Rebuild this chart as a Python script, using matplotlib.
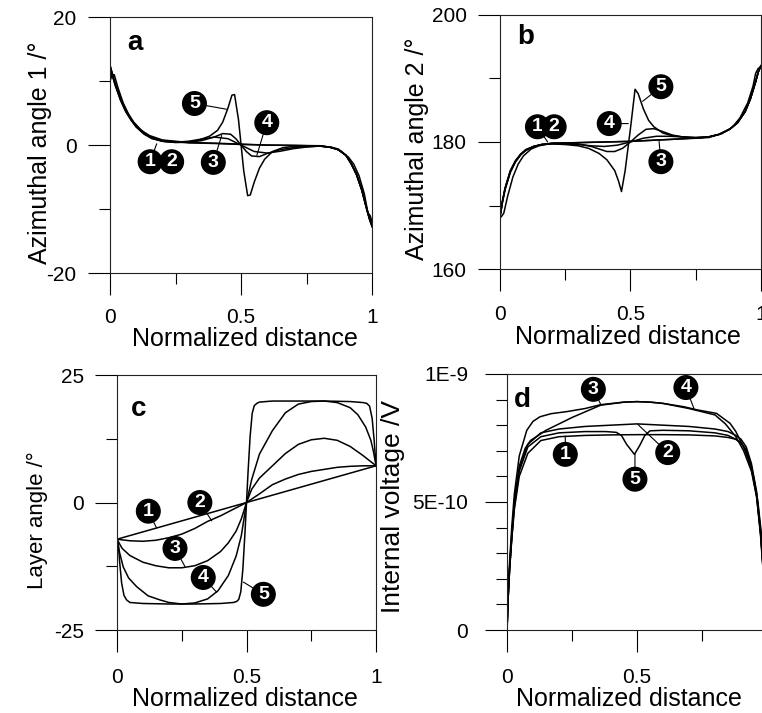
import numpy as np
import matplotlib
matplotlib.use("Agg")
import matplotlib.pyplot as plt
from matplotlib.ticker import MultipleLocator

plt.rcParams['font.family'] = ['Liberation Sans', 'DejaVu Sans']
plt.rcParams['axes.unicode_minus'] = False

# ---- panel a : azimuthal angle 1 (deg) ----
xa1 = [0, 0.01, 0.02, 0.04, 0.06, 0.08, 0.1, 0.13, 0.16, 0.2, 0.3, 0.4, 0.5, 0.6, 0.7, 0.8, 0.84, 0.87, 0.9, 0.92, 0.94, 0.96, 0.98, 0.99, 1.0]
ya1 = [12.5, 11.0, 9.6, 7.3, 5.5, 4.1, 3.0, 1.9, 1.2, 0.7, 0.35, 0.25, 0.1, 0.0, -0.05, -0.15, -0.3, -0.6, -1.6, -2.9, -4.6, -7.0, -10.2, -11.6, -12.8]
xa2 = [0, 0.008, 0.016, 0.03, 0.05, 0.07, 0.09, 0.12, 0.15, 0.2, 0.3, 0.4, 0.5, 0.6, 0.7, 0.8, 0.85, 0.88, 0.91, 0.93, 0.95, 0.97, 0.984, 0.992, 1.0]
ya2 = [10.0, 11.0, 11.0, 9.0, 6.6, 4.9, 3.6, 2.3, 1.5, 0.8, 0.4, 0.3, 0.15, 0.0, -0.05, -0.1, -0.4, -0.9, -1.9, -3.0, -4.8, -7.6, -10.6, -11.0, -12.0]
xa3 = [0, 0.01, 0.02, 0.04, 0.06, 0.08, 0.1, 0.13, 0.16, 0.2, 0.25, 0.3, 0.35, 0.4, 0.45, 0.5, 0.55, 0.6, 0.65, 0.7, 0.75, 0.8, 0.84, 0.87, 0.9, 0.92, 0.94, 0.96, 0.98, 0.99, 1.0]
ya3 = [12.3, 10.8, 9.4, 7.1, 5.3, 4.0, 2.9, 1.8, 1.1, 0.6, 0.45, 0.6, 0.95, 1.25, 1.0, 0.0, -1.0, -1.25, -0.95, -0.55, -0.3, -0.15, -0.35, -0.7, -1.6, -2.9, -4.5, -6.9, -10.0, -11.5, -12.6]
xa4 = [0, 0.01, 0.02, 0.04, 0.06, 0.08, 0.1, 0.13, 0.16, 0.2, 0.25, 0.3, 0.35, 0.4, 0.43, 0.46, 0.48, 0.5, 0.52, 0.54, 0.57, 0.6, 0.65, 0.7, 0.75, 0.8, 0.84, 0.87, 0.9, 0.92, 0.94, 0.96, 0.98, 0.99, 1.0]
ya4 = [12.4, 10.9, 9.5, 7.2, 5.4, 4.0, 2.9, 1.8, 1.1, 0.6, 0.4, 0.45, 0.7, 1.3, 1.8, 1.7, 1.0, 0.0, -1.0, -1.7, -1.8, -1.3, -0.7, -0.4, -0.25, -0.15, -0.35, -0.7, -1.6, -2.9, -4.6, -7.0, -10.1, -11.6, -12.7]
xa5 = [0, 0.01, 0.02, 0.04, 0.06, 0.08, 0.1, 0.13, 0.16, 0.2, 0.25, 0.3, 0.34, 0.38, 0.41, 0.43, 0.45, 0.465, 0.475, 0.49, 0.5, 0.51, 0.525, 0.535, 0.55, 0.57, 0.59, 0.62, 0.66, 0.7, 0.75, 0.8, 0.84, 0.87, 0.9, 0.92, 0.94, 0.96, 0.98, 0.99, 1.0]
ya5 = [12.2, 10.7, 9.3, 7.0, 5.2, 3.9, 2.8, 1.7, 1.0, 0.6, 0.45, 0.5, 0.8, 1.4, 2.3, 3.6, 5.8, 7.8, 7.9, 4.0, 0.0, -4.0, -7.9, -7.8, -5.8, -3.6, -2.2, -1.0, -0.4, -0.2, -0.15, -0.1, -0.35, -0.7, -1.6, -2.9, -4.5, -6.9, -10.0, -11.5, -12.6]

# ---- panel b : azimuthal angle 2 (deg) ----
xb1 = [0, 0.01, 0.02, 0.04, 0.06, 0.08, 0.1, 0.13, 0.16, 0.2, 0.3, 0.4, 0.5, 0.6, 0.7, 0.76, 0.8, 0.84, 0.88, 0.91, 0.94, 0.96, 0.98, 0.99, 1.0]
yb1 = [168.0, 170.5, 172.5, 175.2, 176.9, 178.0, 178.7, 179.3, 179.6, 179.8, 179.9, 180.0, 180.1, 180.3, 180.5, 180.6, 180.8, 181.2, 182.0, 183.0, 184.8, 186.8, 189.5, 191.0, 192.0]
xb2 = [0, 0.005, 0.015, 0.03, 0.05, 0.07, 0.09, 0.12, 0.15, 0.2, 0.3, 0.4, 0.5, 0.6, 0.7, 0.8, 0.85, 0.89, 0.92, 0.95, 0.97, 0.98, 0.99, 1.0]
yb2 = [168.5, 168.2, 168.8, 171.5, 174.5, 176.5, 177.8, 178.9, 179.4, 179.8, 179.9, 180.0, 180.1, 180.3, 180.5, 180.8, 181.3, 182.3, 183.8, 186.2, 188.8, 190.8, 191.6, 191.8]
xb3 = [0, 0.01, 0.02, 0.04, 0.06, 0.08, 0.1, 0.13, 0.16, 0.2, 0.25, 0.3, 0.35, 0.4, 0.45, 0.5, 0.55, 0.6, 0.65, 0.7, 0.75, 0.8, 0.84, 0.88, 0.91, 0.94, 0.96, 0.98, 0.99, 1.0]
yb3 = [168.2, 170.7, 172.7, 175.4, 177.0, 178.1, 178.8, 179.3, 179.6, 179.7, 179.7, 179.6, 179.4, 179.3, 179.5, 180.0, 180.6, 180.9, 180.9, 180.8, 180.7, 180.8, 181.2, 182.0, 183.0, 184.8, 186.8, 189.5, 191.0, 192.0]
xb4 = [0, 0.01, 0.02, 0.04, 0.06, 0.08, 0.1, 0.13, 0.16, 0.2, 0.25, 0.3, 0.35, 0.38, 0.41, 0.44, 0.47, 0.5, 0.53, 0.56, 0.59, 0.62, 0.66, 0.7, 0.75, 0.8, 0.84, 0.88, 0.91, 0.94, 0.96, 0.98, 0.99, 1.0]
yb4 = [168.1, 170.6, 172.6, 175.3, 176.9, 178.0, 178.7, 179.3, 179.6, 179.8, 179.8, 179.7, 179.3, 178.9, 178.5, 178.5, 179.0, 180.0, 181.1, 182.0, 182.1, 181.7, 181.1, 180.8, 180.6, 180.7, 181.2, 182.0, 183.0, 184.8, 186.8, 189.5, 191.0, 192.0]
xb5 = [0, 0.01, 0.02, 0.04, 0.06, 0.08, 0.1, 0.13, 0.16, 0.2, 0.25, 0.3, 0.34, 0.38, 0.41, 0.44, 0.455, 0.466, 0.48, 0.5, 0.518, 0.53, 0.55, 0.57, 0.59, 0.625, 0.66, 0.7, 0.75, 0.8, 0.84, 0.88, 0.91, 0.94, 0.96, 0.98, 0.99, 1.0]
yb5 = [168.3, 170.8, 172.8, 175.5, 177.1, 178.1, 178.8, 179.3, 179.6, 179.7, 179.6, 179.4, 179.0, 178.2, 177.2, 175.5, 173.8, 172.2, 175.5, 182.0, 188.3, 187.6, 185.2, 183.4, 182.4, 181.4, 181.0, 180.8, 180.7, 180.8, 181.2, 182.0, 183.0, 184.8, 186.8, 189.5, 191.0, 192.0]

# ---- panel c : layer angle (deg) ----
xc1 = [0, 0.25, 0.5, 0.75, 1.0]
yc1 = [-7.2, -3.6, 0.0, 3.6, 7.2]
xc2 = [0, 0.05, 0.1, 0.15, 0.2, 0.25, 0.3, 0.35, 0.4, 0.45, 0.5, 0.55, 0.6, 0.65, 0.7, 0.75, 0.8, 0.85, 0.9, 0.95, 1.0]
yc2 = [-7.2, -7.5, -7.6, -7.4, -6.9, -6.2, -5.1, -3.7, -2.6, -1.3, 0.0, 1.7, 3.5, 4.6, 5.5, 6.1, 6.5, 6.9, 7.1, 7.2, 7.2]
xc3 = [0, 0.02, 0.05, 0.1, 0.15, 0.2, 0.25, 0.3, 0.35, 0.4, 0.43, 0.46, 0.48, 0.5, 0.52, 0.55, 0.6, 0.65, 0.7, 0.75, 0.8, 0.85, 0.9, 0.95, 0.98, 1.0]
yc3 = [-7.2, -9.0, -10.4, -11.7, -12.4, -12.8, -12.8, -12.4, -11.4, -9.6, -7.9, -5.6, -3.2, 0.0, 2.6, 4.8, 7.2, 9.6, 11.4, 12.3, 12.6, 12.2, 11.0, 9.2, 8.0, 7.2]
xc4 = [0, 0.01, 0.024, 0.045, 0.076, 0.12, 0.166, 0.2, 0.25, 0.3, 0.35, 0.39, 0.43, 0.46, 0.48, 0.5, 0.52, 0.55, 0.6, 0.65, 0.7, 0.75, 0.8, 0.85, 0.9, 0.93, 0.96, 0.98, 0.99, 1.0]
yc4 = [-7.2, -9.8, -12.6, -14.8, -16.5, -18.3, -19.1, -19.6, -19.9, -19.7, -18.9, -17.3, -14.3, -10.5, -6.5, 0.0, 4.5, 9.5, 14.1, 17.6, 19.3, 19.8, 19.9, 19.6, 18.6, 17.2, 14.8, 12.2, 10.0, 7.2]
xc5 = [0, 0.005, 0.01, 0.018, 0.027, 0.037, 0.05, 0.1, 0.2, 0.3, 0.4, 0.45, 0.462, 0.47, 0.478, 0.486, 0.494, 0.5, 0.506, 0.514, 0.522, 0.53, 0.54, 0.55, 0.6, 0.7, 0.8, 0.9, 0.95, 0.964, 0.975, 0.985, 0.993, 1.0]
yc5 = [-7.2, -8.0, -11.5, -15.8, -18.2, -19.1, -19.6, -19.8, -19.9, -19.9, -19.8, -19.6, -19.4, -19.0, -17.5, -13.0, -6.0, 0.0, 6.0, 13.0, 17.5, 19.0, 19.45, 19.7, 19.9, 19.9, 19.9, 19.8, 19.6, 19.45, 18.9, 16.5, 12.0, 7.2]

# ---- panel d : internal voltage (V) ----
xd1 = [0, 0.004, 0.01, 0.018, 0.028, 0.047, 0.08, 0.13, 0.2, 0.3, 0.4, 0.5, 0.6, 0.7, 0.8, 0.85, 0.88, 0.9, 0.92, 0.94, 0.96, 0.975, 0.99, 1.0]
yd1 = [0, 1.2e-10, 2.4e-10, 3.5e-10, 4.7e-10, 6.0e-10, 6.9e-10, 7.4e-10, 7.55e-10, 7.6e-10, 7.62e-10, 7.63e-10, 7.63e-10, 7.62e-10, 7.58e-10, 7.52e-10, 7.45e-10, 7.32e-10, 7.0e-10, 6.3e-10, 5.2e-10, 3.7e-10, 1.6e-10, 0]
xd2 = [0, 0.004, 0.01, 0.018, 0.028, 0.047, 0.08, 0.13, 0.2, 0.3, 0.4, 0.5, 0.6, 0.7, 0.8, 0.85, 0.88, 0.9, 0.92, 0.94, 0.96, 0.975, 0.99, 1.0]
yd2 = [0, 1.2e-10, 2.4e-10, 3.6e-10, 4.9e-10, 6.3e-10, 7.25e-10, 7.7e-10, 7.85e-10, 7.95e-10, 8.0e-10, 8.05e-10, 8.0e-10, 7.95e-10, 7.85e-10, 7.75e-10, 7.6e-10, 7.45e-10, 7.15e-10, 6.5e-10, 5.4e-10, 3.9e-10, 1.7e-10, 0]
xd3 = [0, 0.004, 0.01, 0.018, 0.028, 0.047, 0.07, 0.09, 0.15, 0.25, 0.36, 0.45, 0.5, 0.55, 0.6, 0.7, 0.76, 0.8, 0.84, 0.88, 0.91, 0.94, 0.96, 0.975, 0.99, 1.0]
yd3 = [0, 1.3e-10, 2.5e-10, 3.7e-10, 5.0e-10, 6.4e-10, 7.1e-10, 7.4e-10, 7.8e-10, 8.3e-10, 8.78e-10, 8.9e-10, 8.92e-10, 8.9e-10, 8.85e-10, 8.65e-10, 8.5e-10, 8.4e-10, 8.05e-10, 7.55e-10, 7.0e-10, 6.2e-10, 5.2e-10, 3.8e-10, 1.7e-10, 0]
xd4 = [0, 0.004, 0.01, 0.018, 0.028, 0.047, 0.076, 0.1, 0.127, 0.17, 0.23, 0.3, 0.36, 0.45, 0.5, 0.55, 0.6, 0.68, 0.73, 0.806, 0.858, 0.88, 0.909, 0.93, 0.948, 0.965, 0.98, 0.99, 1.0]
yd4 = [0, 1.4e-10, 2.7e-10, 4.0e-10, 5.3e-10, 6.8e-10, 7.8e-10, 8.15e-10, 8.33e-10, 8.45e-10, 8.53e-10, 8.65e-10, 8.8e-10, 8.9e-10, 8.92e-10, 8.9e-10, 8.85e-10, 8.72e-10, 8.6e-10, 8.46e-10, 8.07e-10, 7.75e-10, 7.16e-10, 6.6e-10, 6.0e-10, 5.0e-10, 3.6e-10, 2.2e-10, 0]
xd5 = [0, 0.004, 0.01, 0.018, 0.028, 0.047, 0.08, 0.13, 0.2, 0.3, 0.38, 0.42, 0.44, 0.46, 0.49, 0.51, 0.53, 0.55, 0.6, 0.7, 0.8, 0.85, 0.88, 0.9, 0.92, 0.94, 0.96, 0.975, 0.99, 1.0]
yd5 = [0, 1.2e-10, 2.4e-10, 3.6e-10, 4.8e-10, 6.2e-10, 7.15e-10, 7.55e-10, 7.7e-10, 7.75e-10, 7.75e-10, 7.72e-10, 7.6e-10, 7.25e-10, 6.86e-10, 7.2e-10, 7.6e-10, 7.78e-10, 7.8e-10, 7.78e-10, 7.7e-10, 7.6e-10, 7.45e-10, 7.3e-10, 7.05e-10, 6.4e-10, 5.3e-10, 3.8e-10, 1.7e-10, 0]

# circled curve labels: (number, label x, label y, pointer x, pointer y) ; pointer None -> no leader
labels_a = [("1", 0.153, -2.6, 0.178, 0.2), ("2", 0.235, -2.6, None, None),
            ("3", 0.394, -2.7, 0.426, 1.5), ("4", 0.598, 3.5, 0.56, -1.6),
            ("5", 0.322, 6.5, 0.445, 5.6)]
labels_b = [("1", 0.144, 182.4, 0.183, 180.0), ("2", 0.208, 182.4, None, None),
            ("4", 0.419, 182.9, 0.492, 182.9), ("5", 0.617, 188.7, 0.547, 186.4),
            ("3", 0.617, 176.9, 0.61, 180.1)]
labels_c = [("1", 0.121, -1.7, 0.153, -5.0), ("2", 0.32, 0.0, 0.366, -3.6),
            ("3", 0.224, -9.0, 0.263, -12.6), ("4", 0.333, -14.7, 0.385, -17.6),
            ("5", 0.565, -18.0, 0.488, -15.6)]
labels_d = [("3", 0.332, 9.4e-10, 0.362, 8.78e-10), ("4", 0.688, 9.47e-10, 0.72, 8.62e-10),
            ("1", 0.224, 6.86e-10, 0.224, 7.58e-10), ("2", 0.618, 6.93e-10, 0.503, 8.03e-10),
            ("5", 0.492, 5.89e-10, 0.492, 6.88e-10)]

fig = plt.figure(figsize=(7.62, 7.13), dpi=100)

panels = [
    dict(rect=[0.1444, 0.617, 0.344, 0.359], ylim=(-20, 20), major=20, minor=10,
         ylabel="Azimuthal angle 1 /°", ylsize=18, letter="a", lpos=(0.095, 15.9),
         curves=[(xa1, ya1), (xa2, ya2), (xa3, ya3), (xa4, ya4), (xa5, ya5)],
         labels=labels_a, yl=(-0.221, 0.47), xl=(0.515, -0.21), ypad=8, xpad=9.5,
         xticks=["0", "0.5", "1"]),
    dict(rect=[0.656, 0.6227, 0.3425, 0.3563], ylim=(160, 200), major=20, minor=10,
         ylabel="Azimuthal angle 2 /°", ylsize=18, letter="b", lpos=(0.1, 196.5),
         curves=[(xb1, yb1), (xb2, yb2), (xb3, yb3), (xb4, yb4), (xb5, yb5)],
         labels=labels_b, yl=(-0.272, 0.472), xl=(0.49, -0.22), ypad=8, xpad=10.0,
         xticks=["0", "0.5", "1"]),
    dict(rect=[0.1535, 0.1164, 0.340, 0.3576], ylim=(-25, 25), major=25, minor=12.5,
         ylabel="Layer angle /°", ylsize=16, letter="c", lpos=(0.082, 18.3),
         curves=[(xc1, yc1), (xc2, yc2), (xc3, yc3), (xc4, yc4), (xc5, yc5)],
         labels=labels_c, yl=(-0.265, 0.43), xl=(0.494, -0.224), ypad=8, xpad=11.0,
         xticks=["0", "0.5", "1"]),
    dict(rect=[0.6654, 0.1164, 0.3412, 0.3591], ylim=(0, 1e-9), major=5e-10, minor=1e-10,
         ylabel="Internal voltage /V", ylsize=19, letter="d", lpos=(0.06, 9.0e-10),
         curves=[(xd1, yd1), (xd2, yd2), (xd3, yd3), (xd4, yd4), (xd5, yd5)],
         labels=labels_d, yl=(-0.392, 0.484), xl=(0.469, -0.222), ypad=12, xpad=11.5,
         xticks=["0", "0.5", ""]),
]

for p in panels:
    ax = fig.add_axes(p["rect"])
    for xs, ys in p["curves"]:
        ax.plot(xs, ys, color="black", lw=1.1)
    ax.set_xlim(0, 1)
    ax.set_ylim(*p["ylim"])
    ax.xaxis.set_minor_locator(MultipleLocator(0.25))
    ax.yaxis.set_major_locator(MultipleLocator(p["major"]))
    ax.yaxis.set_minor_locator(MultipleLocator(p["minor"]))
    ax.set_xticks([0, 0.5, 1])
    ax.set_xticklabels(p["xticks"])
    if p["letter"] == "d":
        ax.set_yticks([0, 5e-10, 1e-9])
        ax.set_yticklabels(["0", "5E-10", "1E-9"])
    for s in ax.spines.values():
        s.set_linewidth(0.8)
        s.set_color("#222222")
    ax.tick_params(which="major", direction="out", length=16, width=0.8, labelsize=15)
    ax.tick_params(which="minor", direction="out", length=8, width=0.8)
    ax.tick_params(axis="x", which="major", pad=p["xpad"])
    ax.tick_params(axis="y", which="major", pad=p["ypad"])
    ax.set_ylabel(p["ylabel"], fontsize=p["ylsize"])
    ax.set_xlabel("Normalized distance", fontsize=18)
    ax.yaxis.set_label_coords(*p["yl"])
    ax.xaxis.set_label_coords(*p["xl"])
    ax.text(p["lpos"][0], p["lpos"][1], p["letter"], fontsize=20, fontweight="bold",
            ha="center", va="center")
    for num, tx, ty, px, py in p["labels"]:
        box = dict(boxstyle="circle,pad=0.17", fc="black", ec="black")
        if px is None:
            ax.text(tx, ty, num, ha="center", va="center", color="white",
                    fontsize=14, fontweight="bold", bbox=box, zorder=5)
        else:
            ax.annotate(num, xy=(px, py), xytext=(tx, ty), ha="center", va="center",
                        color="white", fontsize=14, fontweight="bold", bbox=box,
                        arrowprops=dict(arrowstyle="-", color="black", lw=0.8,
                                        shrinkA=0, shrinkB=0), zorder=5)

fig.savefig("out.png", dpi=100)
